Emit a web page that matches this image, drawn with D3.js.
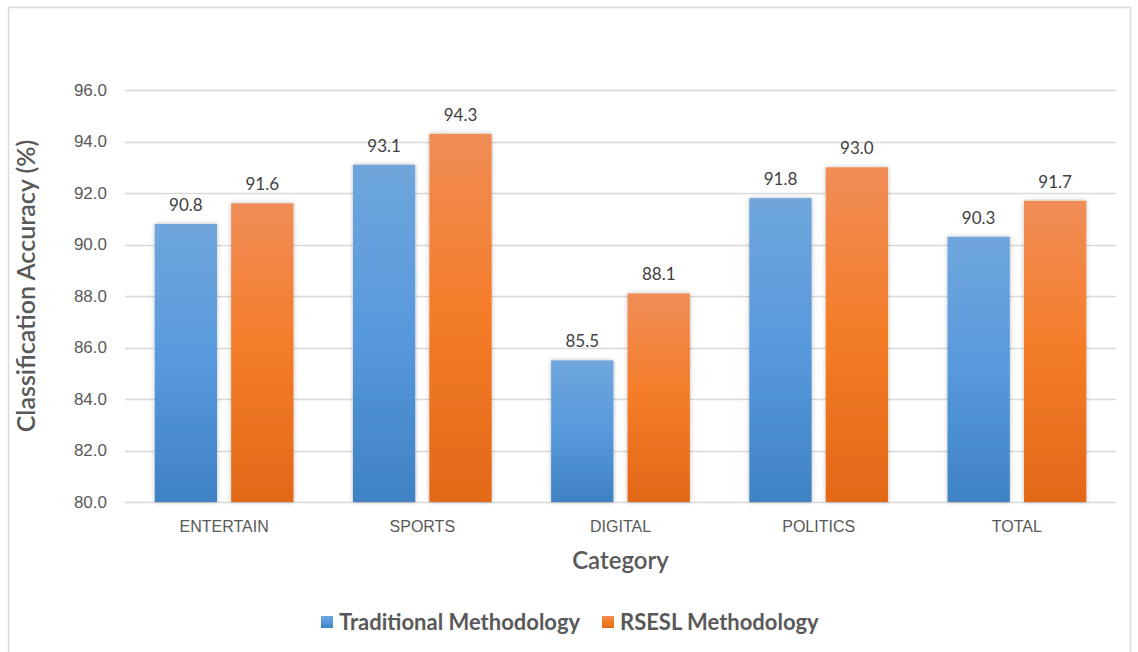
<!DOCTYPE html>
<html>
<head>
<meta charset="utf-8">
<script src="https://cdn.jsdelivr.net/npm/d3@7"></script>
<style>
  html, body { margin: 0; padding: 0; background: #fff; }
  svg { display: block; font-family: Lato, "Open Sans", sans-serif; }
</style>
</head>
<body>
<svg id="chart" width="1138" height="652"></svg>
<script>
// Chart data
const categories = ["ENTERTAIN", "SPORTS", "DIGITAL", "POLITICS", "TOTAL"];
const seriesNames = ["Traditional Methodology", "RSESL Methodology"];
const traditional = [90.8, 93.1, 85.5, 91.8, 90.3];
const rsesl = [91.6, 94.3, 88.1, 93.0, 91.7];
const yTicks = [80, 82, 84, 86, 88, 90, 92, 94, 96];

const seriesValues = [traditional, rsesl];
const rows = categories.map((c, i) => ({
  category: c,
  values: seriesNames.map((s, j) => ({ series: s, idx: j, value: seriesValues[j][i] }))
}));

const svg = d3.select("#chart");
const W = 1138, H = 652;
const margin = { left: 125, right: 22, top: 90, bottom: 150 };
const plotW = W - margin.left - margin.right;
const plotH = H - margin.top - margin.bottom;

// Outer frame
svg.append("rect")
  .attr("x", 8.5).attr("y", 7.5)
  .attr("width", 1122).attr("height", 660)
  .attr("fill", "#fff").attr("stroke", "#d9d9d9").attr("stroke-width", 1.5);

const defs = svg.append("defs");
const gradStops = [
  ["#6fa6dc", "#5799dc", "#3f82c3"],
  ["#f08d57", "#f47c27", "#e26818"]
];
gradStops.forEach((st, i) => {
  const g = defs.append("linearGradient").attr("id", "grad" + i)
    .attr("x1", 0).attr("y1", 0).attr("x2", 0).attr("y2", 1);
  g.append("stop").attr("offset", "0%").attr("stop-color", st[0]);
  g.append("stop").attr("offset", "50%").attr("stop-color", st[1]);
  g.append("stop").attr("offset", "100%").attr("stop-color", st[2]);
});
const shadow = defs.append("filter").attr("id", "shadow")
  .attr("x", "-20%").attr("y", "-10%").attr("width", "140%").attr("height", "120%");
shadow.append("feDropShadow").attr("dx", 0).attr("dy", 0)
  .attr("stdDeviation", 2).attr("flood-color", "#000").attr("flood-opacity", 0.28);

const g = svg.append("g").attr("transform", `translate(${margin.left},${margin.top})`);

const y = d3.scaleLinear().domain([80, 96]).range([plotH, 0]);
const x0 = d3.scaleBand().domain(categories).range([0, plotW])
  .paddingInner(0.3).paddingOuter(0.15);
const x1 = d3.scaleBand().domain(seriesNames).range([0, x0.bandwidth()])
  .paddingInner(0.185).paddingOuter(0);

// Gridlines
g.append("g")
  .selectAll("line").data(yTicks).join("line")
  .attr("x1", 0).attr("x2", plotW)
  .attr("y1", d => Math.round(y(d)) + 0.5).attr("y2", d => Math.round(y(d)) + 0.5)
  .attr("stroke", "#d9d9d9").attr("stroke-width", 1.5);

// Y axis labels
const yAxis = d3.axisLeft(y).tickValues(yTicks).tickFormat(d3.format(".1f")).tickSize(0).tickPadding(18);
const yAxisG = g.append("g").call(yAxis);
yAxisG.select(".domain").remove();
yAxisG.selectAll("text").attr("fill", "#595959").style("font-size", "17px");

// X axis labels
const xAxis = d3.axisBottom(x0).tickSize(0).tickPadding(19);
const xAxisG = g.append("g").attr("transform", `translate(0,${plotH})`).call(xAxis);
xAxisG.select(".domain").remove();
xAxisG.selectAll("text").attr("fill", "#595959").style("font-size", "16px");

// Bars
const groups = g.selectAll(".grp").data(rows).join("g")
  .attr("class", "grp")
  .attr("transform", d => `translate(${x0(d.category)},0)`);

groups.selectAll("rect").data(d => d.values).join("rect")
  .attr("x", d => x1(d.series))
  .attr("y", d => y(d.value))
  .attr("width", x1.bandwidth())
  .attr("height", d => plotH - y(d.value))
  .attr("fill", d => `url(#grad${d.idx})`)
  .attr("filter", "url(#shadow)");

groups.selectAll("text.val").data(d => d.values).join("text")
  .attr("class", "val")
  .attr("x", d => x1(d.series) + x1.bandwidth() / 2)
  .attr("y", d => y(d.value) - 13)
  .attr("text-anchor", "middle")
  .attr("fill", "#404040")
  .style("font-size", "17px")
  .text(d => d3.format(".1f")(d.value));

// Axis titles
svg.append("text")
  .attr("transform", `translate(35,${margin.top + plotH / 2 - 10}) rotate(-90)`)
  .attr("text-anchor", "middle")
  .attr("fill", "#595959")
  .style("font-size", "25px").style("font-weight", "600")
  .text("Classification Accuracy (%)");

svg.append("text")
  .attr("x", margin.left + plotW / 2).attr("y", 569)
  .attr("text-anchor", "middle")
  .attr("fill", "#595959")
  .style("font-size", "24px").style("font-weight", "600")
  .text("Category");

// Legend
const legend = svg.append("g").attr("transform", "translate(0,622)");
const legendItems = [
  { name: seriesNames[0], x: 321, idx: 0 },
  { name: seriesNames[1], x: 602, idx: 1 }
];
legendItems.forEach(it => {
  legend.append("rect")
    .attr("x", it.x).attr("y", -6).attr("width", 12).attr("height", 12)
    .attr("fill", `url(#grad${it.idx})`);
  legend.append("text")
    .attr("x", it.x + 18).attr("y", 8)
    .attr("fill", "#595959")
    .style("font-size", "22px").style("font-weight", "700")
    .text(it.name);
});
</script>
</body>
</html>
